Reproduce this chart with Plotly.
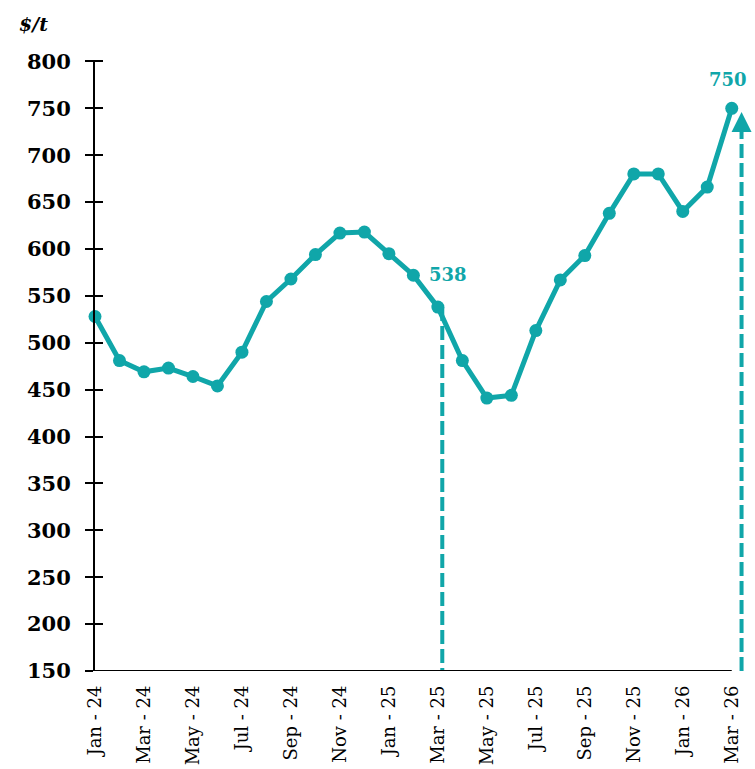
import plotly.graph_objects as go

months = ["Jan-24", "Feb-24", "Mar-24", "Apr-24", "May-24", "Jun-24", "Jul-24", "Aug-24",
          "Sep-24", "Oct-24", "Nov-24", "Dec-24", "Jan-25", "Feb-25", "Mar-25", "Apr-25",
          "May-25", "Jun-25", "Jul-25", "Aug-25", "Sep-25", "Oct-25", "Nov-25", "Dec-25",
          "Jan-26", "Feb-26", "Mar-26"]
prices = [528, 481, 469, 473, 464, 454, 490, 544, 568, 594, 617, 618, 595, 572, 538, 481,
          441, 444, 513, 567, 593, 638, 680, 680, 640, 666, 750]
tick_labels = ["Jan - 24", "Mar - 24", "May - 24", "Jul - 24", "Sep - 24", "Nov - 24", "Jan - 25",
               "Mar - 25", "May - 25", "Jul - 25", "Sep - 25", "Nov - 25", "Jan - 26", "Mar - 26"]
highlight_months = ["Mar-25", "Mar-26"]
y_ticks = [150, 200, 250, 300, 350, 400, 450, 500, 550, 600, 650, 700, 750, 800]

TEAL = "#10a6a9"
SERIF = "DejaVu Serif"

xs = list(range(len(months)))
fig = go.Figure()
fig.add_trace(go.Scatter(
    x=xs, y=prices, mode="lines+markers",
    line=dict(color=TEAL, width=5),
    marker=dict(color=TEAL, size=13),
    cliponaxis=False, showlegend=False, hoverinfo="skip"))
# invisible helper trace so the inner-tick axis (y2) is rendered
fig.add_trace(go.Scatter(x=xs[:1], y=prices[:1], yaxis="y2", mode="markers",
                         marker=dict(size=1, opacity=0), showlegend=False, hoverinfo="skip"))

i1 = months.index(highlight_months[0])
i2 = months.index(highlight_months[1])
v1 = prices[i1]
v2 = prices[i2]
ymin, ymax = y_ticks[0], y_ticks[-1]
yrange = [ymin, ymax + 1.5]

shapes = [
    dict(type="line", xref="x", yref="y", x0=0, x1=len(months) - 1, y0=ymin, y1=ymin,
         line=dict(color="black", width=2), layer="above"),
    dict(type="line", xref="x", yref="y", x0=i1 + 0.18, x1=i1 + 0.18, y0=v1, y1=ymin,
         line=dict(color=TEAL, width=4, dash="14px,5px"), layer="below"),
    dict(type="line", xref="x", yref="y", x0=i2 + 0.4, x1=i2 + 0.4, y0=ymin, y1=v2 - 16,
         line=dict(color=TEAL, width=4, dash="14px,5px"), layer="below"),
]

annotations = [
    dict(x=i1, y=v1, xref="x", yref="y", text="%d" % v1, showarrow=False,
         xshift=10, yshift=33, font=dict(family=SERIF, size=18, color=TEAL, weight="bold")),
    dict(x=i2, y=v2, xref="x", yref="y", text="%d" % v2, showarrow=False,
         xshift=-4, yshift=29, font=dict(family=SERIF, size=18, color=TEAL, weight="bold")),
    dict(x=i2 + 0.4, y=v2 - 4, xref="x", yref="y", ax=i2 + 0.4, ay=v2 - 18,
         axref="x", ayref="y", text="", showarrow=True, arrowhead=2, arrowsize=1,
         arrowwidth=4, arrowcolor=TEAL),
    dict(x=-62 / 649, y=1.0 + 36 / 610, xref="paper", yref="paper", text="<i>$/t</i>",
         showarrow=False, xanchor="center", yanchor="middle",
         font=dict(family=SERIF, size=19, color="black", weight="bold")),
]

fig.update_layout(
    width=755, height=769,
    margin=dict(l=95, r=11, t=60, b=98),
    plot_bgcolor="white", paper_bgcolor="white",
    shapes=shapes, annotations=annotations,
    xaxis=dict(range=[0, 26.5], tickmode="array", tickvals=xs[::2], ticktext=tick_labels,
               tickangle=-90, showgrid=False, zeroline=False, showline=False, ticks="",
               automargin=False,
               tickfont=dict(family=SERIF, size=18, color="black"), ticklabelstandoff=10),
    yaxis=dict(range=yrange, tickvals=y_ticks, ticks="outside", ticklen=8,
               tickwidth=2, tickcolor="black", showline=True, linewidth=2, linecolor="black",
               showgrid=False, zeroline=False, automargin=False,
               tickfont=dict(family=SERIF, size=21, color="black", weight="bold"),
               ticklabelstandoff=10),
    yaxis2=dict(range=yrange, tickmode="array", tickvals=y_ticks, overlaying="y",
                side="left", anchor="x",
                ticks="inside", ticklen=8, tickwidth=2, tickcolor="black", automargin=False,
                showticklabels=False, showgrid=False, zeroline=False, showline=False),
)

fig.write_html("out.html", config={"displayModeBar": False},
               post_script="document.body.style.margin='0';")
